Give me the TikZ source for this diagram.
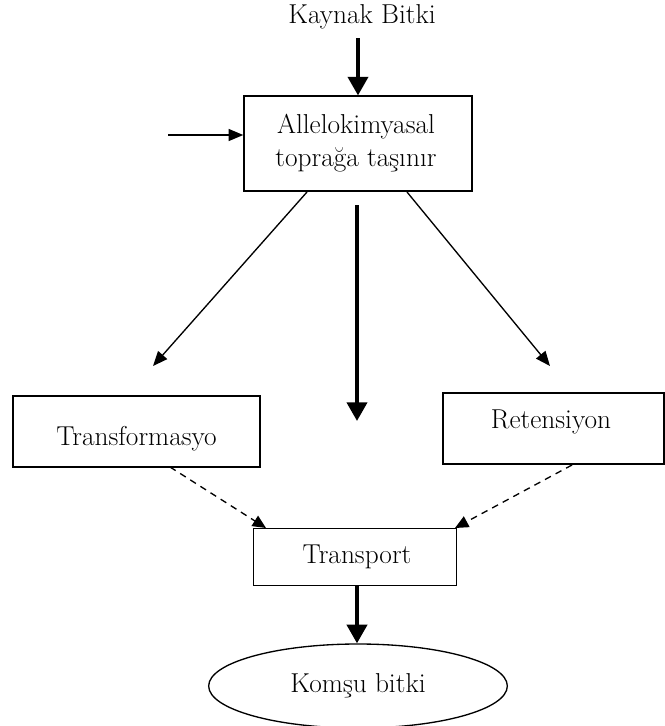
\documentclass[tikz,border=0pt]{standalone}
\usetikzlibrary{arrows.meta,shapes.geometric}
\begin{document}
\begin{tikzpicture}[x=0.75pt,y=-0.75pt,
  txt/.style={font=\fontsize{20.5}{24}\selectfont, inner sep=0pt},
  box/.style={draw, line width=1.1pt, inner sep=0pt},
  thick arr/.style={line width=3pt, -{Triangle[width=15pt,length=14pt]}},
  thin arr/.style={line width=1pt, -{Triangle[width=9pt,length=11pt]}},
  dash arr/.style={line width=1pt, dash pattern=on 5pt off 4pt, -{Triangle[width=9pt,length=10pt]}}]
\useasboundingbox (0,0) rectangle (665,726);
\node[txt] (src) at (362,17) {Kaynak Bitki};
\node[box, minimum width=171pt, minimum height=71pt] (all) at (358,143.5) {};
\node[txt, align=center] (allt) at (356,143) {Allelokimyasal\\[1pt]toprağa taşınır};
\coordinate (inl) at (168,135);
\node[box, minimum width=185pt, minimum height=53pt] (tra) at (136.5,431.5) {};
\node[txt] (trat) at (136.5,439) {Transformasyo};
\node[box, minimum width=166pt, minimum height=53pt] (ret) at (553.5,428.5) {};
\node[txt] (rett) at (551,422) {Retensiyon};
\node[box, minimum width=152pt, minimum height=43pt] (tp) at (355,557) {};
\node[txt] (tpt) at (357,557) {Transport};
\node[draw, ellipse, line width=1pt, minimum width=224pt, minimum height=63pt, inner sep=0pt] (kb) at (358,686) {};
\node[txt] (kbt) at (358,686) {Komşu bitki};
\coordinate (midS) at (357,205);
\coordinate (midE) at (357,421);
\coordinate (lS) at (307,192);
\coordinate (lE) at (153,366);
\coordinate (rS) at (407,192);
\coordinate (rE) at (550,366);
\coordinate (dlS) at (170,467);
\coordinate (dlE) at (266,528);
\coordinate (drS) at (572,465);
\coordinate (drE) at (455,528);
\draw[thick arr] (358,38) -- (all.north -| 358,0);
\draw[thin arr] (inl) -- (inl -| all.west);
\draw[thin arr] (lS) -- (lE);
\draw[thin arr] (rS) -- (rE);
\draw[thick arr] (midS) -- (midE);
\draw[dash arr] (dlS) -- (dlE);
\draw[dash arr] (drS) -- (drE);
\draw[thick arr] (tp.south -| 357,0) -- (kb.north -| 357,0);
\end{tikzpicture}
\end{document}
